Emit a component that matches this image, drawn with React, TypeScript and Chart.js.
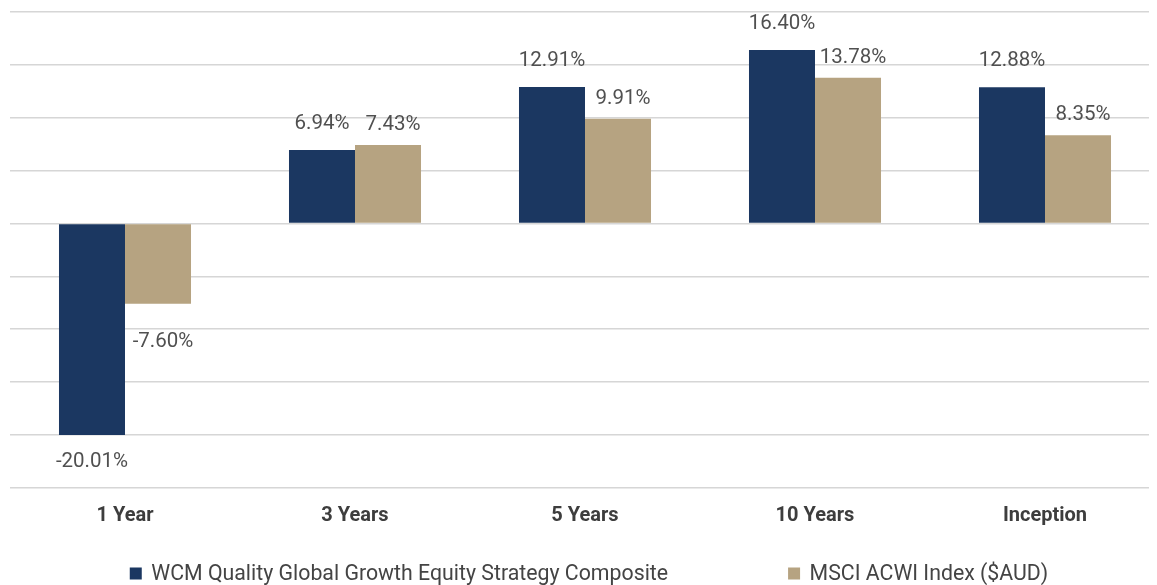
import React, { useEffect, useRef } from "react";
import { Chart, registerables } from "chart.js";

Chart.register(...registerables);

const categories = ["1 Year", "3 Years", "5 Years", "10 Years", "Inception"];
const wcmValues = [-20.01, 6.94, 12.91, 16.4, 12.88];
const msciValues = [-7.6, 7.43, 9.91, 13.78, 8.35];
const seriesNames = [
  "WCM Quality Global Growth Equity Strategy Composite",
  "MSCI ACWI Index ($AUD)",
];
const yMin = -25;
const yMax = 20;
const yStep = 5;

const NAVY = "#1b3761";
const TAN = "#b6a381";
const FONT = "Roboto";

const labelPlugin = {
  id: "valueLabels",
  afterDatasetsDraw(chart: any) {
    const ctx = chart.ctx;
    ctx.save();
    ctx.font = `20.5px ${FONT}`;
    ctx.fillStyle = "#505050";
    ctx.textAlign = "center";
    ctx.textBaseline = "middle";
    chart.data.datasets.forEach((ds: any, di: number) => {
      const meta = chart.getDatasetMeta(di);
      meta.data.forEach((el: any, i: number) => {
        const v = ds.data[i];
        const txt = v.toFixed(2) + "%";
        const dx = di === 1 ? 5 : 0;
        const above = di === 1 ? 20 : 26;
        const below = di === 1 ? 38 : 27;
        const y = v >= 0 ? el.y - above : el.y + below;
        ctx.fillText(txt, el.x + dx, y);
      });
    });
    ctx.restore();
  },
};

const legendPlugin = {
  id: "customLegend",
  afterDraw(chart: any) {
    const ctx = chart.ctx;
    ctx.save();
    ctx.font = `21.3px ${FONT}`;
    ctx.textBaseline = "middle";
    const box = 12;
    const boxGap = 9.5;
    const itemGap = 120;
    const items = chart.data.datasets.map((ds: any) => ({
      text: ds.label,
      color: ds.backgroundColor,
      w: box + boxGap + ctx.measureText(ds.label).width,
    }));
    const total = items.reduce((s: number, it: any) => s + it.w, 0) + itemGap * (items.length - 1);
    let x = 581 - total / 2;
    const y = 565.5;
    items.forEach((it: any) => {
      ctx.fillStyle = it.color;
      ctx.fillRect(x, y - box / 2, box, box);
      ctx.fillStyle = "#444444";
      ctx.textAlign = "left";
      ctx.fillText(it.text, x + box + boxGap, y + 1);
      x += it.w + itemGap;
    });
    ctx.restore();
  },
};

export default function App() {
  const ref = useRef<HTMLCanvasElement | null>(null);
  useEffect(() => {
    if (!ref.current) return;
    const chart = new Chart(ref.current, {
      type: "bar",
      data: {
        labels: categories,
        datasets: [
          { label: seriesNames[0], data: wcmValues, backgroundColor: NAVY },
          { label: seriesNames[1], data: msciValues, backgroundColor: TAN },
        ],
      },
      options: {
        animation: false,
        responsive: false,
        maintainAspectRatio: false,
        layout: { padding: { left: 2, right: 8, top: 4, bottom: 40 } },
        datasets: { bar: { categoryPercentage: 0.574, barPercentage: 1 } },
        plugins: { legend: { display: false }, tooltip: { enabled: false } },
        scales: {
          x: {
            grid: { display: false, drawTicks: false },
            border: { display: false },
            ticks: {
              padding: 16.6,
              color: "#3d3d3d",
              font: { family: FONT, size: 20, weight: "bold" },
            },
          },
          y: {
            min: yMin,
            max: yMax,
            grid: { color: "#d6d6d6", lineWidth: 1.5, drawTicks: false },
            border: { display: false },
            ticks: { display: false, stepSize: yStep },
          },
        },
      },
      plugins: [labelPlugin, legendPlugin],
    });
    return () => chart.destroy();
  }, []);
  return (
    <div style={{ width: 1149, height: 577, overflow: "hidden" }}>
      <canvas ref={ref} width={1160} height={577} style={{ display: "block" }} />
    </div>
  );
}
